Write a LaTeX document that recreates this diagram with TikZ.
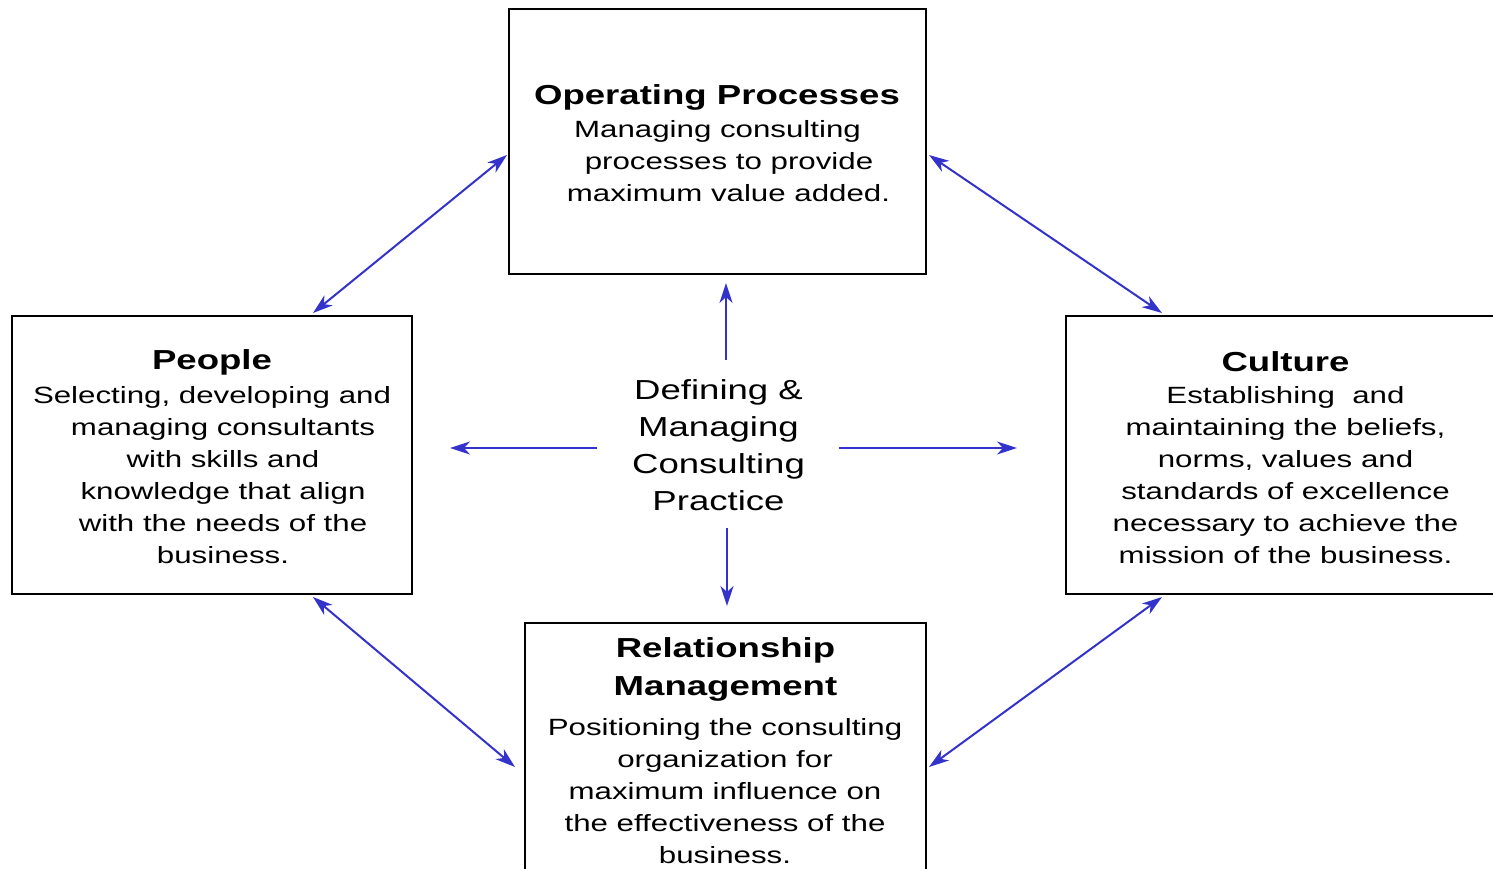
\documentclass[tikz,border=0pt]{standalone}
\usepackage{fontspec}
\setmainfont{Liberation Sans}[FakeStretch=1.33]
\usetikzlibrary{arrows.meta}
\definecolor{arrowblue}{RGB}{51,51,204}
\tikzset{
  box/.style={draw=black, line width=2.2pt, rectangle, inner sep=0pt},
  titletext/.style={inner sep=0pt, align=center, font=\fontsize{27.5}{38}\selectfont\bfseries},
  bodytext/.style={inner sep=0pt, align=center, font=\fontsize{23.5}{32}\selectfont},
  centertext/.style={inner sep=0pt, align=center, font=\fontsize{27.5}{37}\selectfont},
  link/.style={draw=arrowblue, line width=2pt, {Stealth[length=20pt,width=13pt,inset=6pt]}-{Stealth[length=20pt,width=13pt,inset=6pt]}},
  ray/.style={draw=arrowblue, line width=2pt, -{Stealth[length=20pt,width=13pt,inset=6pt]}}
}
\begin{document}
\begin{tikzpicture}[x=1pt,y=-1pt]
\useasboundingbox (0,0) rectangle (1493,869);
\clip (0,0) rectangle (1493,869);
\fill[white] (0,0) rectangle (1493,869);

% boxes
\node[box, minimum width=417pt, minimum height=265pt] (op) at (717.5,141.5) {};
\node[box, minimum width=400pt, minimum height=278pt] (people) at (212,455) {};
\node[box, minimum width=439pt, minimum height=278pt] (culture) at (1285.5,455) {};
\node[box, minimum width=401pt, minimum height=277pt] (rm) at (725.5,761.5) {};

% texts
\node[titletext] (optitle) at (717,97) {Operating Processes};
\node[bodytext] (opbody) at (717.5,161) {Managing consulting\\\hspace*{23pt}processes to provide\\\hspace*{22pt}maximum value added.};

\node[titletext] (peopletitle) at (212,362) {People};
\node[bodytext] (peoplebody) at (212,475) {Selecting, developing and\\\hspace*{22pt}managing consultants\\\hspace*{22pt}with skills and\\\hspace*{22pt}knowledge that align\\\hspace*{22pt}with the needs of the\\\hspace*{22pt}business.};

\node[titletext] (culturetitle) at (1285.5,362) {Culture};
\node[bodytext] (culturebody) at (1285.5,475) {Establishing~ and\\maintaining the beliefs,\\norms, values and\\standards of excellence\\necessary to achieve the\\mission of the business.};

\node[titletext] (rmtitle) at (725.5,669) {Relationship\\Management};
\node[bodytext] (rmbody) at (725,791) {Positioning the consulting\\organization for\\maximum influence on\\the effectiveness of the\\business.};

\node[centertext] (center) at (718.5,445) {Defining \&\\Managing\\Consulting\\Practice};

% connector end points
\coordinate (opL) at (507,155);
\coordinate (opR) at (929,155);
\coordinate (opB) at (726,283);
\coordinate (peopleT) at (313,313);
\coordinate (peopleB) at (313,597);
\coordinate (peopleR) at (450,448);
\coordinate (cultureT) at (1162,313);
\coordinate (cultureB) at (1162,597);
\coordinate (cultureL) at (1017,448);
\coordinate (rmL) at (515,767);
\coordinate (rmR) at (929,767);
\coordinate (rmT) at (727,606);
\coordinate (cU) at (726,360);
\coordinate (cD) at (727,528);
\coordinate (cL) at (597,448);
\coordinate (cR) at (839,448);

% connectors
\draw[link] (peopleT) -- (opL);
\draw[link] (opR) -- (cultureT);
\draw[link] (peopleB) -- (rmL);
\draw[link] (cultureB) -- (rmR);
\draw[ray] (cU) -- (opB);
\draw[ray] (cD) -- (rmT);
\draw[ray] (cL) -- (peopleR);
\draw[ray] (cR) -- (cultureL);
\end{tikzpicture}
\end{document}
